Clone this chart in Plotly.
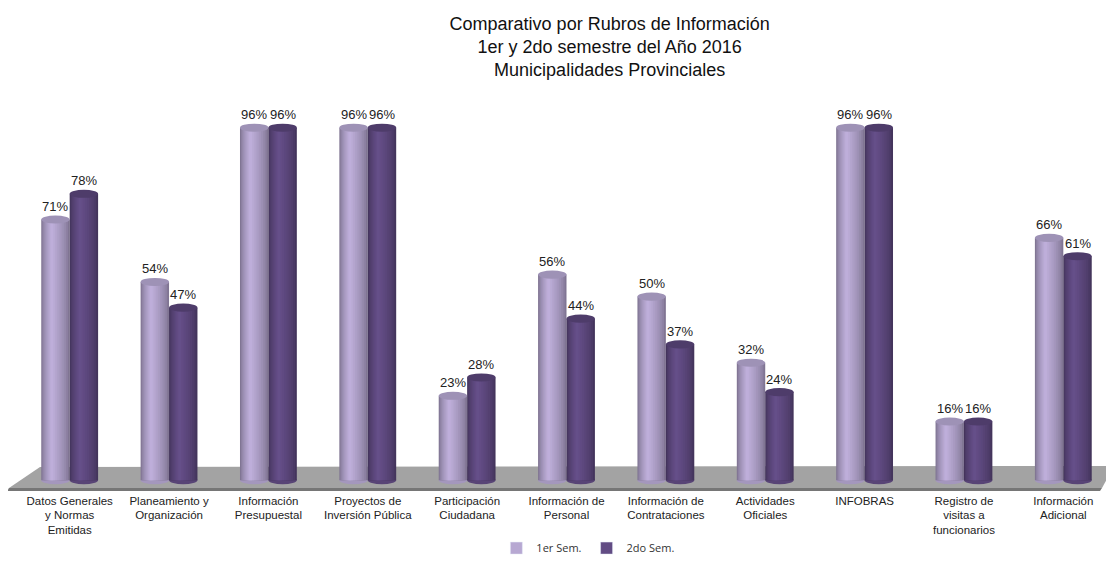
import plotly.graph_objects as go
import math

categories = ["Datos Generales<br>y Normas<br>Emitidas", "Planeamiento y<br>Organización",
              "Información<br>Presupuestal", "Proyectos de<br>Inversión Pública",
              "Participación<br>Ciudadana", "Información de<br>Personal",
              "Información de<br>Contrataciones", "Actividades<br>Oficiales",
              "INFOBRAS", "Registro de<br>visitas a<br>funcionarios", "Información<br>Adicional"]
sem1 = [71, 54, 96, 96, 23, 56, 50, 32, 96, 16, 66]
sem2 = [78, 47, 96, 96, 28, 44, 37, 24, 96, 16, 61]
series_names = ["1er Sem.", "2do Sem."]

base_colors = [(183, 168, 210), (98, 76, 132)]
top_colors = ["rgb(158,146,182)", "rgb(78,60,106)"]
offsets = [-0.143, 0.143]
bar_w = 0.286
n_layers = 10
hl = 0.36      # highlight position across cylinder
ell_h = 1.1    # half height of cylinder ellipse in data units

idx = list(range(len(categories)))
fig = go.Figure()

def shade(c, f):
    return "rgb(%d,%d,%d)" % tuple(max(0, min(255, int(v * f))) for v in c)

PLOT_BOTTOM = 492.0   # page px of plot-area bottom
PLOT_H = 379.0
shapes = []
def px2x(px):
    return (px - 20) / 1093.0
def py2y(py):
    return (PLOT_BOTTOM - py) / PLOT_H
shapes.append(dict(type="path", xref="paper", yref="paper", layer="below",
                   path="M %f %f L %f %f L %f %f L %f %f Z" % (
                       px2x(9), py2y(488), px2x(40), py2y(467),
                       px2x(1114), py2y(466), px2x(1102), py2y(488)),
                   fillcolor="rgb(163,163,163)", line=dict(width=0)))
shapes.append(dict(type="path", xref="paper", yref="paper", layer="below",
                   path="M %f %f L %f %f L %f %f L %f %f Z" % (
                       px2x(9), py2y(488), px2x(1102), py2y(488),
                       px2x(1100), py2y(491), px2x(7), py2y(491)),
                   fillcolor="rgb(118,118,118)", line=dict(width=0)))

for s, vals in enumerate([sem1, sem2]):
    for k in range(n_layers):
        r = 1.0 - k / n_layers
        lf = hl - hl * r
        rf = hl + (1 - hl) * r
        w = (rf - lf) * bar_w
        c_off = (lf + rf) / 2 * bar_w - bar_w / 2
        f = 0.70 + 0.34 * (k / (n_layers - 1)) ** 0.7
        fig.add_trace(go.Bar(
            x=[i + offsets[s] + c_off for i in idx],
            y=vals, width=w, marker=dict(color=shade(base_colors[s], f), line=dict(width=0)),
            showlegend=False, hoverinfo="skip"))
    mid = shade(base_colors[s], 0.9)
    for i, v in zip(idx, vals):
        cx = i + offsets[s]
        shapes.append(dict(type="circle", xref="x", yref="y", layer="below",
                           x0=cx - bar_w / 2, x1=cx + bar_w / 2, y0=-ell_h, y1=ell_h,
                           fillcolor=mid, line=dict(width=0)))
        shapes.append(dict(type="circle", xref="x", yref="y", layer="above",
                           x0=cx - bar_w / 2, x1=cx + bar_w / 2, y0=v - ell_h, y1=v + ell_h,
                           fillcolor=top_colors[s], line=dict(width=0)))
    fig.add_trace(go.Bar(x=[None], y=[None], name=series_names[s],
                         marker=dict(color=shade(base_colors[s], 1.0))))

annotations = []
for s, vals in enumerate([sem1, sem2]):
    for i, v in zip(idx, vals):
        annotations.append(dict(x=i + offsets[s], y=v, xref="x", yref="y", text="%d%%" % v,
                                showarrow=False, yshift=13,
                                font=dict(family="Liberation Sans, Arial", size=13, color="#222")))

fig.update_layout(
    width=1106, height=557,
    margin=dict(l=12, r=1, t=105, b=73),
    paper_bgcolor="white", plot_bgcolor="white",
    barmode="overlay",
    title=dict(text="Comparativo por Rubros de Información<br>1er y 2do semestre del Año 2016<br>Municipalidades Provinciales",
               x=0.544, xanchor="center", y=0.9613, yanchor="top",
               font=dict(family="Liberation Sans, Arial", size=18, color="#111")),
    xaxis=dict(range=[-0.5, 10.5], tickvals=idx, ticktext=categories, showgrid=False,
               zeroline=False, showline=False, ticks="",
               tickfont=dict(family="Liberation Sans, Arial", size=11.5, color="#222")),
    yaxis=dict(range=[-3.2, 100], visible=False),
    shapes=shapes, annotations=annotations,
    legend=dict(orientation="h", x=0.52, xanchor="center", y=-0.148, yanchor="middle",
                font=dict(family="Open Sans, Liberation Sans", size=11, color="#333")),
)

fig.write_html("out.html")
